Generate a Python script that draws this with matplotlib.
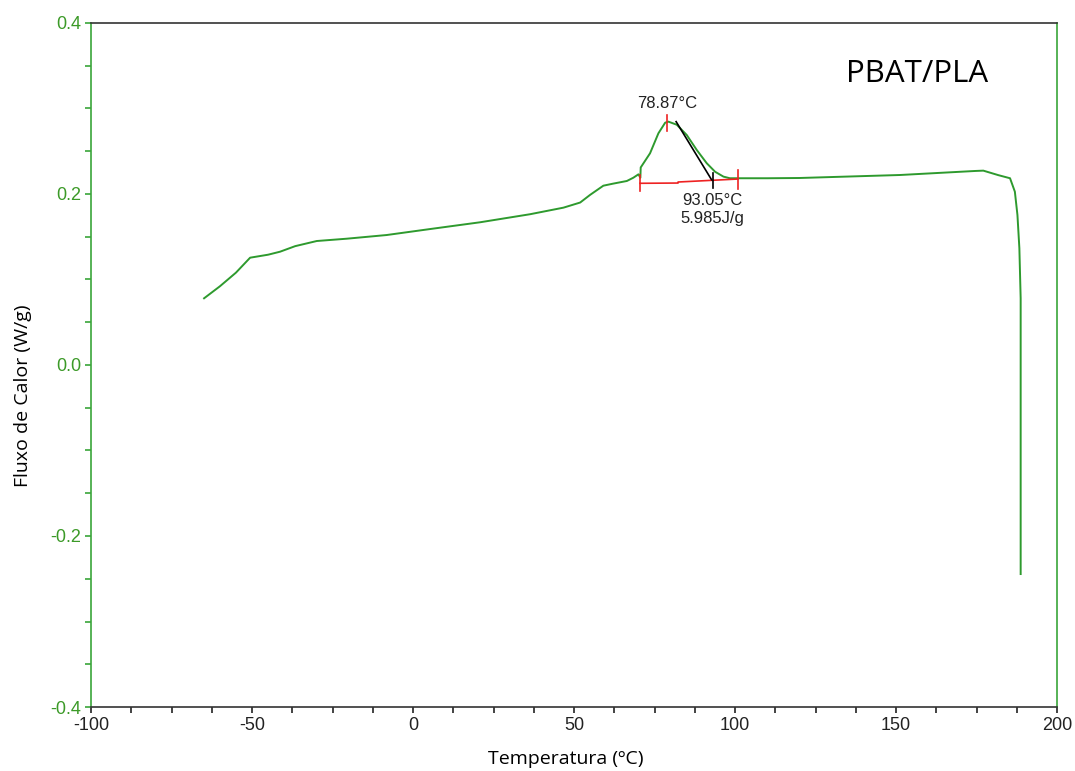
import matplotlib
matplotlib.use("Agg")
import matplotlib.pyplot as plt
from matplotlib.ticker import MultipleLocator, FormatStrFormatter

plt.rcParams["axes.unicode_minus"] = False

# DSC curve: temperature (C) and heat flow (W/g)
temp = [-64.9, -60.0, -55.0, -50.6, -45.0, -41.3, -36.6, -29.9, -20.6, -8.2, 5.3,
        20.8, 36.3, 46.7, 51.9, 55.0, 59.1, 62.0, 66.4, 68.4, 70.0, 70.6, 70.7,
        73.6, 76.2, 78.3, 79.3, 81.9, 85.0, 88.1, 91.2, 93.8, 96.4, 98.4, 110.0,
        120.0, 151.2, 174.5, 177.1, 181.8, 185.4, 186.9, 187.7, 188.3, 188.7, 188.7]
flow = [0.078, 0.092, 0.108, 0.1255, 0.129, 0.1325, 0.139, 0.145, 0.1477, 0.152, 0.159,
        0.1669, 0.1763, 0.184, 0.190, 0.199, 0.2097, 0.212, 0.2152, 0.219, 0.223, 0.219, 0.231,
        0.2476, 0.271, 0.2834, 0.2846, 0.281, 0.269, 0.2515, 0.236, 0.226, 0.2203, 0.2184, 0.2184,
        0.2187, 0.2222, 0.2269, 0.2273, 0.222, 0.2184, 0.2027, 0.1754, 0.1365, 0.078, -0.2445]

# integration baseline and tangent
base_t = [70.5, 82.3, 82.3, 100.9]
base_y = [0.2125, 0.2128, 0.2140, 0.2175]
tang_t = [81.7, 92.7]
tang_y = [0.2846, 0.2167]
peak_t, onset_t = 78.87, 93.05
peak_label = "78.87°C"
end_label = "93.05°C\n5.985J/g"

green = "#2e9a2e"
axgreen = "#3aa53a"
ticklab = "#3c9a28"

fig = plt.figure(figsize=(10.75, 7.71), dpi=100)
ax = fig.add_axes([0.0847, 0.083, 0.8986, 0.8872])

ax.plot(temp, flow, color=green, lw=1.4)
ax.plot(base_t, base_y, color="#ee2222", lw=1.2)
ax.plot([70.5, 70.5], [0.2035, 0.2225], color="#ee2222", lw=1.2)
ax.plot([100.9, 100.9], [0.2055, 0.2275], color="#ee2222", lw=1.2)
ax.plot([peak_t, peak_t], [0.2735, 0.2925], color="#ee2222", lw=1.2)
ax.plot(tang_t, tang_y, color="black", lw=1.2)
ax.plot([onset_t, onset_t], [0.2070, 0.2245], color="black", lw=1.2)

ax.text(peak_t, 0.3064, peak_label, ha="center", va="center", fontsize=12,
        family="Liberation Sans", color="#222222")
ax.text(onset_t, 0.1815, end_label, ha="center", va="center", fontsize=12,
        family="Liberation Sans", color="#222222", linespacing=1.25)
ax.text(156.5, 0.3402, "PBAT/PLA", ha="center", va="center", fontsize=22.5,
        family="Open Sans", color="black")

ax.set_xlim(-100, 200)
ax.set_ylim(-0.4, 0.4)
ax.xaxis.set_major_locator(MultipleLocator(50))
ax.xaxis.set_minor_locator(MultipleLocator(12.5))
ax.yaxis.set_major_locator(MultipleLocator(0.2))
ax.yaxis.set_minor_locator(MultipleLocator(0.05))
ax.yaxis.set_major_formatter(FormatStrFormatter("%.1f"))

ax.tick_params(axis="x", which="both", direction="out", length=4, width=1.2,
               color="#222222", labelsize=13, labelcolor="#222222", pad=3)
ax.tick_params(axis="y", which="both", direction="out", length=4, width=1.2,
               color=axgreen, labelsize=13, labelcolor=ticklab, pad=3)
for lab in ax.get_xticklabels() + ax.get_yticklabels():
    lab.set_family("Liberation Sans")

ax.spines["left"].set_color(axgreen)
ax.spines["right"].set_color(axgreen)
ax.spines["top"].set_color("#333333")
ax.spines["bottom"].set_color("#333333")
for s in ax.spines.values():
    s.set_linewidth(1.2)

ax.set_xlabel("Temperatura (ºC)", fontsize=14, family="Open Sans")
ax.set_ylabel("Fluxo de Calor (W/g)", fontsize=14, family="Open Sans")
ax.xaxis.set_label_coords(0.4917, -0.063)
ax.yaxis.set_label_coords(-0.061, 0.455)

fig.savefig("out.png", dpi=100)
